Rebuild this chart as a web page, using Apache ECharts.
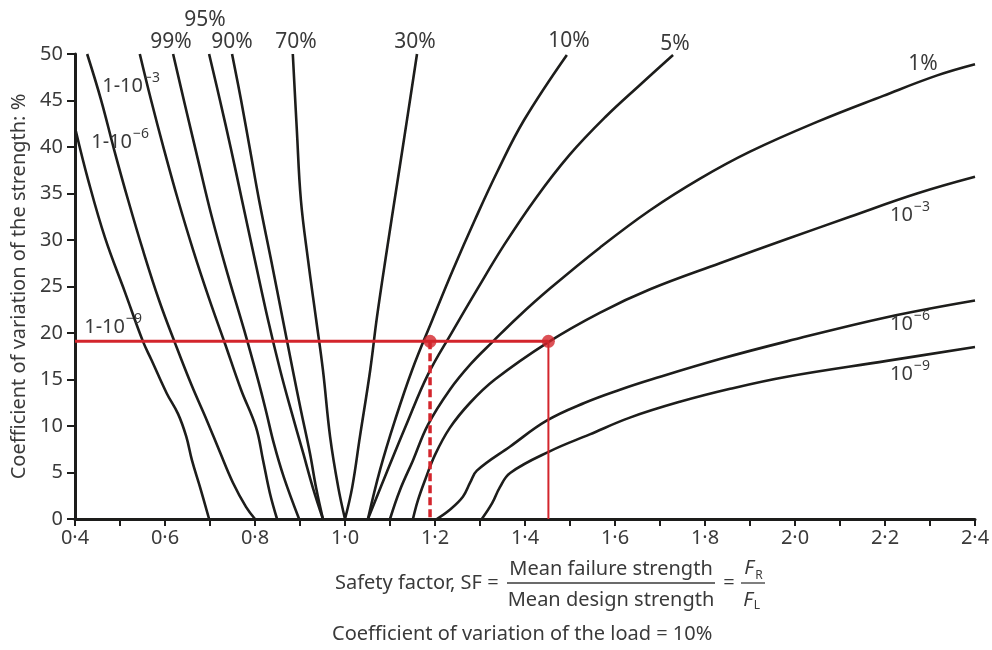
<!DOCTYPE html>
<html><head><meta charset="utf-8">
<script src="https://cdn.jsdelivr.net/npm/echarts@6/dist/echarts.min.js"></script>
<style>html,body{margin:0;padding:0;background:#fff}#c{width:992px;height:650px}</style>
</head><body><div id="c"></div>
<script>
// ---------- data (safety factor, CoV of strength %) ----------
const xTickLabels = ['0·4','0·6','0·8','1·0','1·2','1·4','1·6','1·8','2·0','2·2','2·4'];
const yTickLabels = ['0','5','10','15','20','25','30','35','40','45','50'];

// left family (reliability)
const c_1m1e9 = [[0.698,0],[0.678,3.4],[0.66,6.3],[0.647,8.9],[0.629,11.3],[0.604,13.5],[0.570,17.1],[0.551,19.1],[0.511,24.4],[0.467,30.2],[0.429,36.5],[0.402,41.7]];
const c_1m1e6 = [[0.8,0],[0.78,1.3],[0.751,3.9],[0.722,7.2],[0.693,10.6],[0.659,14.4],[0.624,18.7],[0.587,23.5],[0.551,28.9],[0.518,34.3],[0.487,39.7],[0.458,45.05],[0.427,50]];
const c_1m1e3 = [[0.849,0],[0.833,2.8],[0.818,6.3],[0.802,9.9],[0.769,13.9],[0.733,18.9],[0.698,23.7],[0.662,29.0],[0.629,34.3],[0.598,39.7],[0.569,45.05],[0.544,50]];
const c_99 = [[0.898,0],[0.864,4.5],[0.842,8.1],[0.824,11.7],[0.807,14.9],[0.776,20.3],[0.74,26.2],[0.704,32.5],[0.673,38.7],[0.644,44.6],[0.618,50]];
const c_95 = [[0.951,0],[0.929,3.3],[0.907,7.1],[0.88,11.7],[0.856,16],[0.829,21.4],[0.8,27.8],[0.771,34.3],[0.747,39.7],[0.722,45.05],[0.698,50]];
const c_90 = [[0.951,0],[0.936,3.3],[0.922,7.1],[0.902,11.7],[0.884,16],[0.862,21.4],[0.836,27.8],[0.809,34.3],[0.789,39.7],[0.769,45.05],[0.749,50]];
const c_70 = [[1.0,0],[0.985,3.4],[0.967,8.8],[0.951,16],[0.936,21.4],[0.918,27.8],[0.902,34.3],[0.893,41.8],[0.884,50]];
// right family (probability of failure)
const c_30 = [[1.0,0],[1.016,3.4],[1.033,8.8],[1.056,16],[1.071,21.7],[1.093,28.9],[1.116,36.1],[1.138,43.0],[1.16,50]];
const c_10 = [[1.051,0],[1.078,5.3],[1.111,10.6],[1.149,16.0],[1.194,21.4],[1.24,26.8],[1.289,32.2],[1.34,37.5],[1.398,42.9],[1.493,49.9]];
const c_5 = [[1.051,0],[1.093,5.05],[1.136,10.1],[1.184,15.5],[1.238,20.1],[1.295,24.8],[1.354,29.5],[1.424,34.5],[1.498,39.1],[1.578,43.2],[1.656,46.7],[1.729,49.9]];
const c_1 = [[1.1,0],[1.122,3.1],[1.151,6.3],[1.184,10.1],[1.233,13.9],[1.28,16.7],[1.329,19.1],[1.384,21.7],[1.456,24.8],[1.567,29.2],[1.678,33.2],[1.789,36.6],[1.9,39.5],[2.049,42.7],[2.196,45.5],[2.316,47.7],[2.4,48.9]];
const c_1e3 = [[1.151,0],[1.162,2.0],[1.178,4.2],[1.2,6.9],[1.233,9.8],[1.278,12.5],[1.333,15.0],[1.451,19.0],[1.567,22.2],[1.678,24.7],[1.833,27.5],[1.982,30.1],[2.122,32.5],[2.271,35.0],[2.4,36.8]];
const c_1e6 = [[1.204,0],[1.233,1.0],[1.262,2.4],[1.278,3.9],[1.293,5.2],[1.367,7.8],[1.449,10.6],[1.533,12.5],[1.611,13.9],[1.684,15.05],[1.833,17.2],[1.982,19.1],[2.204,21.7],[2.4,23.5]];
const c_1e9 = [[1.304,0],[1.327,1.7],[1.344,3.4],[1.367,4.95],[1.456,7.3],[1.544,9.1],[1.633,10.9],[1.744,12.6],[1.856,14.0],[1.982,15.3],[2.204,17.0],[2.4,18.5]];

const refCov = 19.1;            // CoV of strength used in the worked example
const refSF = [1.189, 1.452];
const axisStartSF = 0.4;

// ---------- chart ----------
const FONT = '"Noto Sans", "Open Sans", sans-serif';
const INK = '#1d1d1b', TXT = '#3a3a3a', RED = '#d3252c';
const curves = [c_1m1e9,c_1m1e6,c_1m1e3,c_99,c_95,c_90,c_70,c_30,c_10,c_5,c_1,c_1e3,c_1e6,c_1e9];

const series = curves.map(d => ({
  type:'line', data:d, showSymbol:false, smooth:0.4, silent:true,
  lineStyle:{color:INK, width:2.6}, z:2
}));
series.push({type:'line', data:[[axisStartSF,refCov],[refSF[1],refCov]], showSymbol:false, lineStyle:{color:RED,width:3}, z:5});
series.push({type:'line', data:[[refSF[0],refCov],[refSF[0],0]], showSymbol:false, lineStyle:{color:RED,width:3.5,type:[8,4]}, z:5});
series.push({type:'line', data:[[refSF[1],refCov],[refSF[1],0]], showSymbol:false, lineStyle:{color:RED,width:2}, z:5});
series.push({type:'scatter', data:refSF.map(s=>[s,refCov]), symbolSize:13, itemStyle:{color:RED}, z:6});

function txt(x,y,t,size,opt){
  opt = opt||{};
  return {type:'text', x:x, y:y, z:10, style:{text:t, font:(opt.italic?'italic ':'')+size+'px '+FONT, fill:TXT,
    textAlign:opt.align||'center', align:opt.align||'center', textVerticalAlign:'middle', verticalAlign:'middle'}};
}
function supLabel(x,y,base,sup){
  return [txt(x,y,base,20,{align:'right'}), txt(x+1,y-8,sup,14,{align:'left'})];
}
const MINUS='\u2212';
const graphics = [
  txt(205,20,'95%',21), txt(171,42,'99%',21), txt(232,42,'90%',21), txt(296,42,'70%',21),
  txt(415,42,'30%',21), txt(569,41,'10%',21), txt(675,44,'5%',21), txt(923,64,'1%',21),
  ...supLabel(913,215,'10',MINUS+'3'),
  ...supLabel(913,324,'10',MINUS+'6'),
  ...supLabel(913,374,'10',MINUS+'9'),
  ...supLabel(143,86,'1-10',MINUS+'3'),
  ...supLabel(132,142,'1-10',MINUS+'6'),
  ...supLabel(125,327,'1-10',MINUS+'9'),
  // x-axis title with fractions
  txt(335,583,'Safety factor, SF =',20,{align:'left'}),
  txt(611,569,'Mean failure strength',20),
  {type:'line', z:10, shape:{x1:507,y1:583,x2:715,y2:583}, style:{stroke:TXT,lineWidth:1.3}},
  txt(611,600,'Mean design strength',20),
  txt(729,583,'=',20),
  txt(749,568,'F',20,{italic:true}), txt(759,576,'R',12),
  {type:'line', z:10, shape:{x1:741,y1:583,x2:765,y2:583}, style:{stroke:TXT,lineWidth:1.3}},
  txt(748,600,'F',20,{italic:true}), txt(757,606,'L',12),
  txt(332,634,'Coefficient of variation of the load = 10%',20,{align:'left'})
];

const chart = echarts.init(document.getElementById('c'), null, {renderer:'canvas'});
chart.setOption({
  animation:false,
  backgroundColor:'#fff',
  grid:{left:75,right:17,top:54,bottom:131,containLabel:false,outerBoundsMode:'none'},
  xAxis:{type:'value', min:0.4, max:2.4, interval:0.1,
    axisLine:{lineStyle:{color:INK,width:3}},
    axisTick:{length:7,lineStyle:{color:INK,width:2}},
    axisLabel:{margin:9, color:TXT, fontSize:20, fontFamily:FONT,
      formatter:v=>{const k=Math.round((v-0.4)*10); return k%2===0 ? xTickLabels[k/2] : '';}},
    splitLine:{show:false}},
  yAxis:{type:'value', min:0, max:50, interval:5,
    name:'Coefficient of variation of the strength: %', nameLocation:'middle', nameGap:43,
    nameTextStyle:{color:TXT, fontSize:20, fontFamily:FONT},
    axisLine:{show:true,lineStyle:{color:INK,width:3}},
    axisTick:{show:true,length:8,lineStyle:{color:INK,width:2}},
    axisLabel:{margin:12, color:TXT, fontSize:20, fontFamily:FONT,
      formatter:v=>yTickLabels[Math.round(v/5)]},
    splitLine:{show:false}},
  series:series,
  graphic:graphics
});
</script></body></html>
